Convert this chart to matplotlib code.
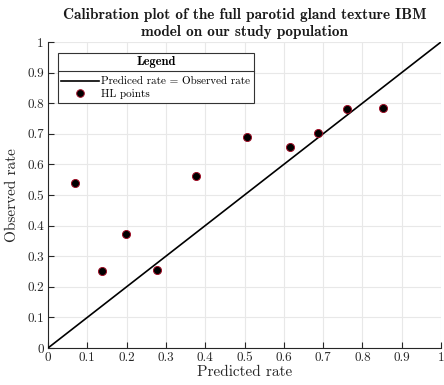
import matplotlib
matplotlib.use("Agg")
import matplotlib.pyplot as plt
from matplotlib.lines import Line2D
import numpy as np

predicted = [0.068, 0.137, 0.198, 0.278, 0.377, 0.507, 0.617, 0.686, 0.760, 0.852]
observed = [0.538, 0.252, 0.371, 0.256, 0.561, 0.691, 0.657, 0.702, 0.782, 0.783]
ticks = [0, 0.1, 0.2, 0.3, 0.4, 0.5, 0.6, 0.7, 0.8, 0.9, 1]
tick_labels = ["0", "0.1", "0.2", "0.3", "0.4", "0.5", "0.6", "0.7", "0.8", "0.9", "1"]

plt.rcParams['font.family'] = 'serif'
plt.rcParams['font.serif'] = ['cmr10', 'DejaVu Serif']
plt.rcParams['mathtext.fontset'] = 'cm'
plt.rcParams['axes.unicode_minus'] = False

fig = plt.figure(figsize=(4.44, 3.85), dpi=100)
ax = fig.add_axes([48/444, 37/385, 393/444, 306/385])

ax.plot([0, 1], [0, 1], color='black', lw=1.2, zorder=3)
ax.plot(predicted, observed, 'o', ms=5.8, mfc='black', mec='#a01028', mew=0.7, zorder=4)

ax.set_xlim(0, 1)
ax.set_ylim(0, 1)
ax.set_xticks(ticks)
ax.set_xticklabels(tick_labels)
ax.set_yticks(ticks)
ax.set_yticklabels(tick_labels)
ax.tick_params(direction='in', length=4, width=0.8, labelsize=9.5, colors='#262626', labelcolor='#262626', pad=3)
ax.grid(True, color='#e8e8e8', lw=0.8)
ax.set_axisbelow(True)
for s in ['top', 'right']:
    ax.spines[s].set_visible(False)
for s in ['left', 'bottom']:
    ax.spines[s].set_color('#262626')
    ax.spines[s].set_linewidth(0.8)

ax.set_xlabel('Predicted rate', fontsize=11, color='#262626', labelpad=1)
ax.set_ylabel('Observed rate', fontsize=11, color='#262626', labelpad=6)
ax.set_title('Calibration plot of the full parotid gland texture IBM\nmodel on our study population',
             fontsize=11, fontfamily='cmb10', color='#1a1a1a', pad=4, linespacing=1.3)

handles = [Line2D([0], [0], color='black', lw=1.2),
           Line2D([0], [0], marker='o', ls='none', ms=5.5, mfc='black', mec='#a01028', mew=0.7)]
leg = ax.legend(handles, ['Prediced rate = Observed rate', 'HL points'],
                title='Legend', loc='upper left', bbox_to_anchor=(10/393, 1 - 11/306),
                fontsize=8, title_fontproperties={'family': 'cmb10', 'size': 9},
                frameon=True, fancybox=False, edgecolor='#333333', framealpha=1,
                borderpad=0.3, labelspacing=0.25, handlelength=3.4, handletextpad=0.2,
                borderaxespad=0)
leg.get_frame().set_linewidth(0.8)
leg._legend_box.sep = 6
fig.canvas.draw()
bb = leg.get_window_extent()
tb = leg.get_title().get_window_extent()
ysep = (tb.y0 - 3)
fig.add_artist(Line2D([bb.x0 / fig.bbox.width, bb.x1 / fig.bbox.width],
                      [ysep / fig.bbox.height, ysep / fig.bbox.height],
                      color='#333333', lw=0.8, transform=fig.transFigure, zorder=10))

fig.savefig('out.png', dpi=100)
